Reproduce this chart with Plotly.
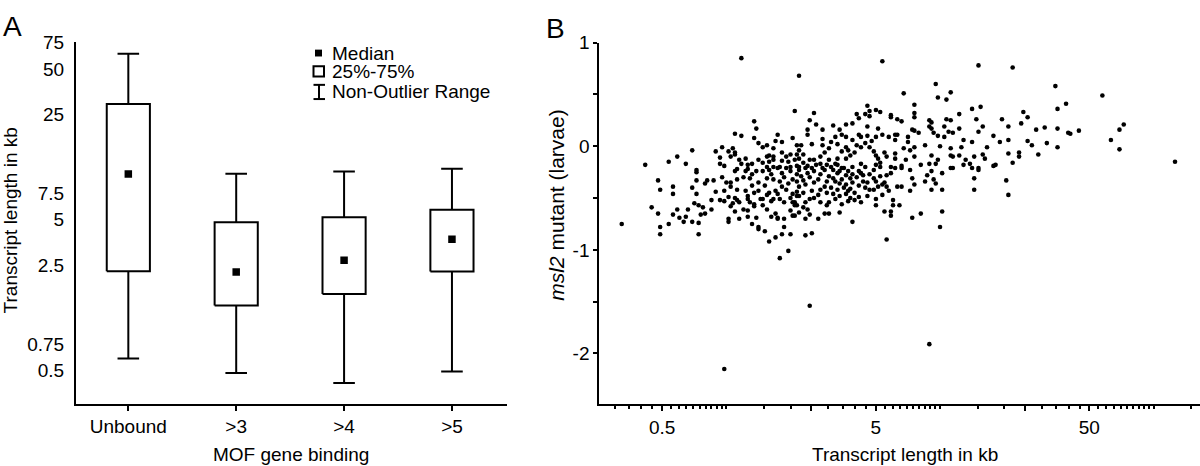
import numpy as np
import plotly.graph_objects as go

# ---------------- Panel A data (box summary, transcript length in kb) -------------
categories = ["Unbound", ">3", ">4", ">5"]
whisker_high = [63.2, 10.1, 10.45, 10.9]
q75 = [29.3, 4.82, 5.20, 5.83]
medians = [10.07, 2.25, 2.69, 3.71]
q25 = [2.28, 1.35, 1.61, 2.27]
whisker_low = [0.60, 0.48, 0.413, 0.492]

a_ytick_vals = [0.5, 0.75, 2.5, 5, 7.5, 25, 50, 75]
a_ytick_text = ["0.5", "0.75", "2.5", "5", "7.5", "25", "50", "75"]
legend_labels = ["Median", "25%-75%", "Non-Outlier Range"]

# ---------------- Panel B data (log10 transcript length in kb, msl2 value) --------
grp1_log_kb = [0.07,0.34,0.32,0.13,0.14,0.04,0.07,0.13,0.24,0.31, 0.23,0.26,0.15,0.17,0.19,0.22,0.33,-0.16,-0.02,-0.05,
               0.01,0.03,0.04,-0.23,-0.38,-0.27,-0.19,-0.03,0.02,0.04, 0.06,0.09,-0.03,-0.01,0.07,0.10,0.12,0.15,0.17,0.19,
               0.20,0.22,0.22,0.20,0.26,0.28,0.30,0.33,0.26,0.29, 0.32,0.19,0.22,0.25,0.30,0.33,0.05,0.10,-0.14]
grp1_val = [0.85,0.68,0.34,0.24,0.17,0.12,0.10,0.08,0.11,0.08, 0.05,0.04,0.03,-0.01,0.01,-0.02,0.01,-0.04,-0.01,-0.05,
            -0.05,-0.02,-0.06,-0.10,-0.18,-0.15,-0.17,-0.11,-0.10,-0.08, -0.13,-0.12,-0.17,-0.19,-0.17,-0.18,-0.17,-0.13,-0.16,-0.10,
            -0.09,-0.10,-0.13,-0.15,-0.06,-0.10,-0.08,-0.08,-0.14,-0.15, -0.13,-0.20,-0.20,-0.20,-0.20,-0.19,-0.22,-0.22,-0.23]

grp2_log_kb = [0.09,0.12,0.14,0.17,0.20,0.21,0.24,0.26,0.28,0.30, 0.33,0.19,0.22,0.25,0.26,0.28,0.31,0.33]
grp2_val = [-0.24,-0.27,-0.24,-0.24,-0.23,-0.27,-0.21,-0.26,-0.21,-0.24, -0.27,-0.31,-0.32,-0.34,-0.39,-0.42,-0.32,-0.34]

grp3_log_kb = [-0.14,-0.32,-0.14,-0.09,-0.06,-0.02,-0.31,-0.25,-0.25,-0.16, -0.14,-0.10,-0.05,-0.01,0.02,0.00,0.02,0.04,0.05,0.05,
               0.01,0.04,0.05,0.06,0.10,0.10,0.11,0.13,0.13,0.15, 0.16,0.17,0.19,0.20,0.21,0.22,0.25,0.27,0.30,0.31,
               0.33,0.32,-0.35,-0.32,-0.31,-0.31,-0.27,-0.25,-0.22,-0.20, -0.19,-0.18,-0.16,-0.15,-0.13,-0.11,-0.12,-0.13,-0.13,-0.10,
               -0.07,-0.07,-0.03,0.02,0.03,0.04,0.01,0.01,0.06,0.08, 0.10,0.10,0.12,0.14,0.15,0.15,0.13,0.17,0.19,0.18,
               0.20,0.21,0.23,0.24,0.24,0.23,0.26,0.27,0.27,0.30, 0.30,0.31,0.29,0.25,-0.49,0.33,0.34,0.31,-0.01,-0.23]
grp3_val = [-0.25,-0.33,-0.33,-0.33,-0.33,-0.30,-0.42,-0.39,-0.46,-0.40, -0.46,-0.36,-0.44,-0.43,-0.39,-0.35,-0.35,-0.24,-0.32,-0.42,
            -0.49,-0.50,-0.52,-0.54,-0.48,-0.51,-0.54,-0.56,-0.45,-0.43, -0.51,-0.51,-0.47,-0.45,-0.53,-0.51,-0.51,-0.54,-0.50,-0.46,
            -0.48,-0.54,-0.59,-0.65,-0.78,-0.85,-0.75,-0.66,-0.69,-0.73, -0.68,-0.61,-0.73,-0.55,-0.57,-0.59,-0.66,-0.74,-0.85,-0.65,
            -0.52,-0.61,-0.52,-0.58,-0.55,-0.63,-0.70,-0.73,-0.70,-0.61, -0.62,-0.68,-0.75,-0.69,-0.78,-0.80,-0.58,-0.57,-0.61,-0.82,
            -0.92,-0.68,-0.65,-0.70,-0.69,-0.88,-0.85,-0.78,-0.70,-0.62, -0.85,-0.67,-1.01,-1.08,-0.75,-0.57,-0.64,-0.54,-0.53,-0.61]

grp4_log_kb = [0.73,1.18,0.98,0.83,1.05,0.99,1.03,0.88,0.66,0.70, 0.72,0.67,0.88,0.88,1.15,1.19,1.09,1.17,0.41,0.39,
               0.42,0.61,0.62,0.65,0.67,0.77,0.77,0.80,0.82,0.95, 0.96,1.03,1.05,1.02,1.09,1.20,1.18,0.95,0.96,0.97,
               0.87,0.88,0.90,1.04,1.06,0.99,1.02,0.38,0.38,0.45, 0.50,0.53,0.56,0.59,0.66,0.71,0.54,0.56,0.51,0.45,
               0.40,0.62,0.63,0.66,0.70,0.73,0.76,0.79,0.80,0.85, 0.79,0.85,0.88,0.93,1.00,1.05,1.10,1.11,1.15,1.22,
               1.25,0.35,0.34,0.36,0.45,0.48,0.46,0.52,0.56,0.57, 0.59,0.61,0.63,0.67,0.69,0.70,0.58,0.56,0.52,0.44,
               0.41,0.39,0.34,0.48,0.51,0.47,0.44,0.75,0.79,0.79, 0.83,0.86,0.84,0.88,0.96,0.99,1.05,1.06,1.09,1.12,
               1.16,1.20,1.21,1.26,0.63,0.65,0.70,0.72,0.77,0.82, 0.91,0.95,0.98,1.05,1.11,1.14,1.18,0.34,0.37,0.52,
               0.54,0.59,0.40]
grp4_val = [0.82,0.78,0.60,0.51,0.52,0.47,0.45,0.40,0.39,0.35, 0.33,0.34,0.32,0.28,0.36,0.38,0.31,0.26,0.32,0.25,
            0.21,0.31,0.27,0.31,0.29,0.30,0.28,0.26,0.24,0.25, 0.23,0.26,0.25,0.19,0.17,0.19,0.14,0.19,0.17,0.13,
            0.16,0.15,0.13,0.14,0.13,0.10,0.09,0.16,0.11,0.16, 0.20,0.16,0.21,0.22,0.19,0.17,0.11,0.09,0.09,0.07,
            0.02,0.11,0.09,0.10,0.09,0.11,0.09,0.11,0.11,0.09, 0.06,0.04,-0.01,0.01,0.00,-0.02,-0.01,0.06,0.04,-0.01,
            0.10,0.01,-0.04,-0.08,0.01,-0.02,-0.06,0.02,-0.01,-0.04, 0.06,0.01,-0.01,-0.01,-0.05,-0.09,-0.09,-0.12,-0.12,-0.10,
            -0.13,-0.13,-0.12,-0.13,-0.17,-0.18,-0.17,-0.10,-0.07,-0.12, -0.02,-0.04,-0.13,-0.10,-0.09,-0.13,-0.09,-0.10,-0.09,-0.13,
            -0.10,-0.08,-0.12,-0.18,-0.17,-0.20,-0.18,-0.16,-0.20,-0.19, -0.18,-0.17,-0.17,-0.21,-0.18,-0.17,-0.21,-0.20,-0.21,-0.18,
            -0.21,-0.20,-0.21]

grp5_log_kb = [0.34,0.35,0.38,0.41,0.43,0.41,0.37,0.34,0.46,0.48, 0.50,0.52,0.55,0.57,0.59,0.62,0.63,0.51,0.54,0.56,
               0.59,0.49,0.46,0.44,0.52,0.57,0.60,0.64,0.66,0.69, 0.72,0.75,0.77,0.79,0.82,0.86,0.87,0.88,0.86,0.94,
               0.93,0.96,0.97,0.98,0.96,1.01,1.01,1.06,1.15,1.16, 1.16,1.18,0.70,0.71,0.73,0.75,0.74,0.76,0.73,0.67,
               0.69,0.80,0.82,0.70,0.70,0.63,0.62,0.58,0.57,0.54, 0.53,0.51,0.48,0.47,0.44,0.41,0.39,0.37,0.36,0.34,
               0.32,0.39,0.38,0.43,0.46,0.48,0.37,0.32,0.59,0.74, 0.77,0.77,0.78,0.78,0.81,0.87,0.91,1.01,1.00,0.75,
               0.40,0.37]
grp5_val = [-0.23,-0.29,-0.26,-0.24,-0.32,-0.35,-0.37,-0.39,-0.23,-0.29, -0.23,-0.26,-0.21,-0.24,-0.27,-0.24,-0.26,-0.34,-0.32,-0.37,
            -0.35,-0.40,-0.39,-0.42,-0.42,-0.43,-0.45,-0.34,-0.35,-0.23, -0.20,-0.28,-0.26,-0.21,-0.21,-0.23,-0.31,-0.37,-0.43,-0.28,
            -0.34,-0.24,-0.32,-0.36,-0.42,-0.26,-0.42,-0.21,-0.21,-0.31, -0.42,-0.23,-0.34,-0.39,-0.37,-0.39,-0.35,-0.43,-0.47,-0.42,
            -0.42,-0.39,-0.39,-0.51,-0.57,-0.54,-0.49,-0.50,-0.53,-0.56, -0.64,-0.51,-0.54,-0.57,-0.54,-0.50,-0.51,-0.54,-0.59,-0.48,
            -0.57,-0.66,-0.61,-0.70,-0.65,-0.65,-0.70,-0.67,-0.73,-0.63, -0.63,-0.67,-0.52,-0.57,-0.57,-0.69,-0.65,-0.63,-0.78,-0.90,
            -0.84,-0.86]

grp6_log_kb = [1.34,1.54,1.76,1.59,1.55,1.39,1.41,1.29,1.38,1.32, 1.45,1.49,1.55,1.60,1.61,1.65,1.86,1.84,1.28,1.32,
               1.41,1.43,1.50,1.55,1.80,1.84,1.32,1.37,1.37,1.46, 1.25,1.34,2.10,1.31,1.32]
grp6_val = [0.76,0.58,0.49,0.41,0.36,0.33,0.28,0.26,0.22,0.19, 0.16,0.18,0.17,0.13,0.12,0.15,0.21,0.16,0.04,0.06,
            0.05,0.01,0.03,-0.01,0.06,-0.03,-0.07,-0.06,-0.10,-0.08, -0.19,-0.16,-0.15,-0.33,-0.47]

grp7_log_kb = [0.39, 0.95, -0.01]
grp7_val = [-1.54, -1.91, -2.15]

# dense core (estimated positions in the blackest part of the cloud)
grp8_log_kb = [0.36,0.38,0.42,0.45,0.49,0.53,0.56,0.58,0.61,0.64, 0.36,0.39,0.44,0.47,0.50,0.53,0.55,0.58,0.62,0.65,
               0.33,0.36,0.40,0.43,0.47,0.50,0.53,0.56,0.60,0.66, 0.23,0.18,0.15,0.12,0.09,0.08,0.11,0.27,0.29,0.24,
               0.67,0.69,0.72,0.71,0.74,0.65,0.68,0.60,0.54,0.49]
grp8_val = [-0.16,-0.19,-0.18,-0.21,-0.20,-0.24,-0.28,-0.31,-0.30,-0.28, -0.33,-0.30,-0.27,-0.34,-0.31,-0.36,-0.40,-0.41,-0.38,-0.40,
            -0.44,-0.45,-0.43,-0.47,-0.45,-0.46,-0.48,-0.46,-0.52,-0.48, -0.43,-0.38,-0.35,-0.38,-0.43,-0.30,-0.31,-0.30,-0.36,-0.46,
            -0.27,-0.31,-0.29,-0.12,-0.06,0.03,0.05,-0.06,-0.05,0.04]

b_xtick_vals = [0.25, 0.5, 2.5, 5, 25, 50]
b_xtick_text = ["", "0.5", "", "5", "", "50"]
b_ytick_vals = [-2.5, -2, -1.5, -1, -0.5, 0, 0.5, 1]
b_ytick_text = ["", "-2", "", "-1", "", "0", "", "1"]

# ---------------- assemble ------------------------------------------------------
log_groups = [grp1_log_kb, grp2_log_kb, grp3_log_kb, grp4_log_kb, grp5_log_kb, grp6_log_kb, grp7_log_kb, grp8_log_kb]
val_groups = [grp1_val, grp2_val, grp3_val, grp4_val, grp5_val, grp6_val, grp7_val, grp8_val]
for a, b in zip(log_groups, val_groups):
    assert len(a) == len(b), (len(a), len(b))
b_x = 10 ** np.concatenate([np.array(g, float) for g in log_groups])
b_y = np.concatenate([np.array(g, float) for g in val_groups])

W, H = 1200, 466
def fx(p):
    return p / W
def fy(p):
    return 1 - p / H

FONT = "Liberation Sans, Arial, Helvetica, sans-serif"
BLACK = "black"

fig = go.Figure()

# Panel A: boxes, whiskers, medians built from the summary arrays
box_half, cap_half = 0.2, 0.1
wx, wy, bx, by = [], [], [], []
for i in range(len(categories)):
    wx += [i, i, None, i, i, None, i - cap_half, i + cap_half, None, i - cap_half, i + cap_half, None]
    wy += [q75[i], whisker_high[i], None, whisker_low[i], q25[i], None,
           whisker_high[i], whisker_high[i], None, whisker_low[i], whisker_low[i], None]
    bx += [i - box_half, i + box_half, i + box_half, i - box_half, i - box_half, None]
    by += [q25[i], q25[i], q75[i], q75[i], q25[i], None]

fig.add_trace(go.Scatter(x=wx, y=wy, mode="lines", line=dict(color=BLACK, width=2),
                         xaxis="x", yaxis="y", showlegend=False, hoverinfo="skip"))
fig.add_trace(go.Scatter(x=bx, y=by, mode="lines", line=dict(color=BLACK, width=2),
                         xaxis="x", yaxis="y", showlegend=False, hoverinfo="skip"))
fig.add_trace(go.Scatter(x=list(range(len(categories))), y=medians, mode="markers",
                         marker=dict(symbol="square", size=7.5, color=BLACK, line=dict(width=0)),
                         xaxis="x", yaxis="y", showlegend=False))

# Panel B scatter
fig.add_trace(go.Scatter(x=b_x, y=b_y, mode="markers",
                         marker=dict(size=4.6, color=BLACK, line=dict(width=0)),
                         xaxis="x2", yaxis="y2", showlegend=False))

# minor tick positions (styling for the log axis of panel B)
minor_vals = []
for start, stop, step in [(0.3, 1.0, 0.05), (1.0, 10.0, 0.5), (10.0, 100.0, 5.0), (100.0, 150.0, 50.0)]:
    v = start
    while v <= stop + 1e-9:
        rv = round(v, 3)
        if all(abs(rv - m) > 1e-6 for m in b_xtick_vals):
            minor_vals.append(rv)
        v += step

# domains (pixel edges converted to paper fractions)
a_x_dom = [fx(76), fx(507.3)]
a_y_dom = [fy(402.3), fy(32.7)]
b_x_dom = [fx(599.3), 1.0]
b_y_dom = [fy(403), fy(33.3)]

axis_common = dict(showline=True, linecolor=BLACK, linewidth=2, showgrid=False, zeroline=False,
                   tickfont=dict(family=FONT, size=19, color=BLACK), tickcolor=BLACK, tickwidth=2)

fig.update_layout(
    width=W, height=H, margin=dict(l=0, r=0, t=0, b=0),
    paper_bgcolor="white", plot_bgcolor="white",
    font=dict(family=FONT, color=BLACK, size=19),
    showlegend=False,
    xaxis=dict(domain=a_x_dom, range=[-0.485, 3.513], tickmode="array",
               tickvals=list(range(len(categories))), ticktext=categories,
               ticks="outside", ticklen=5, anchor="y", **axis_common),
    yaxis=dict(domain=a_y_dom, type="log", range=[-0.5219, 1.879], tickmode="array",
               tickvals=a_ytick_vals, ticktext=a_ytick_text,
               ticks="outside", ticklen=6, anchor="x",
               **{**axis_common, "tickcolor": "rgba(0,0,0,0)"}),
    xaxis2=dict(domain=b_x_dom, type="log", range=[-0.595, 2.217], tickmode="array",
                tickvals=b_xtick_vals, ticktext=b_xtick_text, ticks="outside", ticklen=5, anchor="y2",
                minor=dict(tickmode="array", tickvals=minor_vals, ticks="outside", ticklen=3,
                           tickwidth=1.5, tickcolor=BLACK, showgrid=False),
                **axis_common),
    yaxis2=dict(domain=b_y_dom, range=[-2.491, 1.0], tickmode="array",
                tickvals=b_ytick_vals, ticktext=b_ytick_text, ticks="outside", ticklen=4,
                anchor="x2", **axis_common),
)

ann = []
def text(x, y, s, size=19, angle=0, xanchor="center"):
    ann.append(dict(x=fx(x), y=fy(y), xref="paper", yref="paper", text=s, showarrow=False,
                    xanchor=xanchor, yanchor="middle", textangle=angle,
                    font=dict(family=FONT, size=size, color=BLACK)))

text(12, 17, "A", size=28)
text(555, 19, "B", size=28)
text(291, 454, "MOF gene binding")
text(10, 215, "Transcript length in kb", angle=-90)
text(905, 454, "Transcript length in kb")
text(557, 200, "<i>msl2</i> mutant (larvae)", size=21, angle=-90)
text(330, 44, legend_labels[0], xanchor="left")
text(330, 63, legend_labels[1], xanchor="left")
text(330, 83.5, legend_labels[2], xanchor="left")
fig.update_layout(annotations=ann)

shapes = [
    dict(type="rect", xref="paper", yref="paper", x0=fx(315), x1=fx(322), y0=fy(47.5), y1=fy(40.5),
         fillcolor=BLACK, line=dict(width=0)),
    dict(type="rect", xref="paper", yref="paper", x0=fx(313.5), x1=fx(324), y0=fy(68), y1=fy(57.5),
         fillcolor="white", line=dict(color=BLACK, width=2)),
    dict(type="line", xref="paper", yref="paper", x0=fx(319), x1=fx(319), y0=fy(91), y1=fy(76.5),
         line=dict(color=BLACK, width=2)),
    dict(type="line", xref="paper", yref="paper", x0=fx(313.5), x1=fx(325), y0=fy(76.5), y1=fy(76.5),
         line=dict(color=BLACK, width=2)),
    dict(type="line", xref="paper", yref="paper", x0=fx(313.5), x1=fx(325), y0=fy(91), y1=fy(91),
         line=dict(color=BLACK, width=2)),
]
fig.update_layout(shapes=shapes)

fig.write_html(
    "out.html",
    config={"displayModeBar": False},
    post_script="document.body.style.margin='0px';document.body.style.padding='0px';"
                "document.body.style.overflow='hidden';",
)
